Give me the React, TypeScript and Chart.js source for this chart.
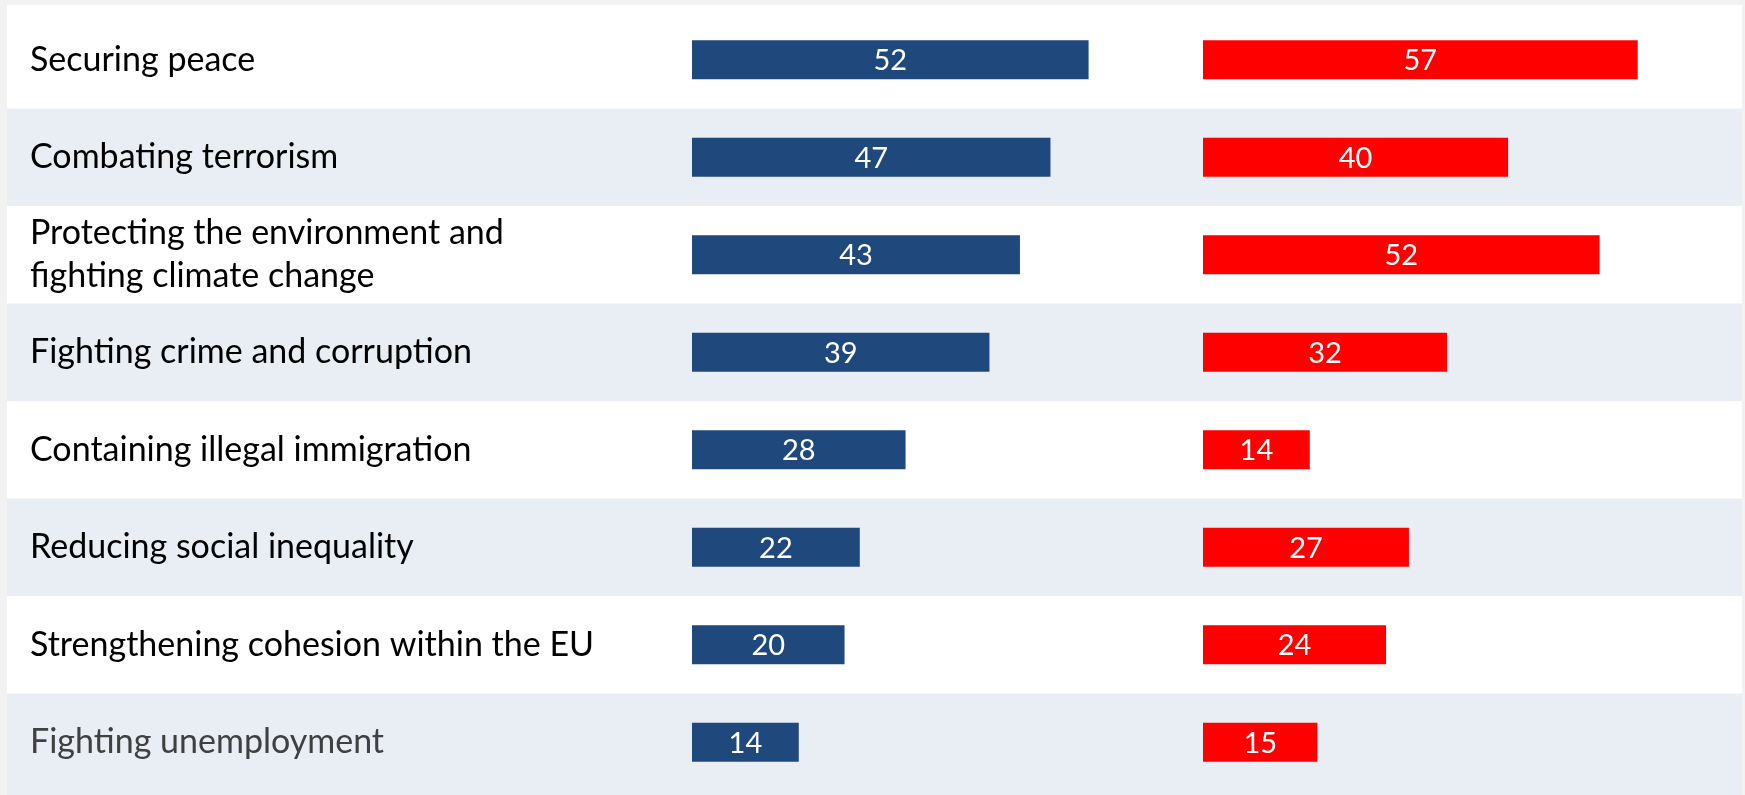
import React, { useEffect, useRef } from "react";
import { Chart, registerables } from "chart.js";

Chart.register(...registerables);

const categories: (string | string[])[] = [
  "Securing peace",
  "Combating terrorism",
  ["Protecting the environment and", "fighting climate change"],
  "Fighting crime and corruption",
  "Containing illegal immigration",
  "Reducing social inequality",
  "Strengthening cohesion within the EU",
  "Fighting unemployment",
];
const blueValues = [52, 47, 43, 39, 28, 22, 20, 14];
const redValues = [57, 40, 52, 32, 14, 27, 24, 15];
const axisMax = 67;

const W = 1745;
const H = 795;
const BLUE = "#1F497D";
const RED = "#FF0000";
const SHADE = "#E9EDF4";
const PAGE_BG = "#F2F2F2";
const PANEL = { left: 7, top: 5, right: 1742 };
const FONT = "Lato";

const backgroundPlugin = {
  id: "tableBackground",
  beforeDraw(chart: any) {
    const { ctx } = chart;
    const y = chart.scales.y;
    ctx.save();
    ctx.fillStyle = PAGE_BG;
    ctx.fillRect(0, 0, chart.width, chart.height);
    ctx.fillStyle = "#FFFFFF";
    ctx.fillRect(PANEL.left, PANEL.top, PANEL.right - PANEL.left, chart.height - PANEL.top);
    const n = categories.length;
    const band = (y.bottom - y.top) / n;
    ctx.fillStyle = SHADE;
    for (let i = 1; i < n; i += 2) {
      const c = y.getPixelForValue(i);
      const top = c - band / 2;
      const bottom = i === n - 1 ? chart.height : c + band / 2;
      ctx.fillRect(PANEL.left, top, PANEL.right - PANEL.left, bottom - top);
    }
    ctx.restore();
  },
};

const valueLabelPlugin = {
  id: "valueLabels",
  afterDatasetsDraw(chart: any) {
    const { ctx } = chart;
    ctx.save();
    ctx.font = `29px ${FONT}`;
    ctx.fillStyle = "#FFFFFF";
    ctx.textAlign = "center";
    ctx.textBaseline = "middle";
    chart.data.datasets.forEach((ds: any, di: number) => {
      const meta = chart.getDatasetMeta(di);
      meta.data.forEach((el: any, i: number) => {
        const { x, base, y } = el.getProps(["x", "base", "y"], true);
        ctx.fillText(String(ds.data[i]), (x + base) / 2, y + 1);
      });
    });
    ctx.restore();
  },
};

export default function App() {
  const ref = useRef<HTMLCanvasElement | null>(null);

  useEffect(() => {
    let chart: Chart | null = null;
    let cancelled = false;
    const make = () => {
      if (cancelled || !ref.current) return;
      const hiddenX = () => ({
        type: "linear" as const,
        position: "bottom" as const,
        stack: "cols",
        stackWeight: 1,
        min: 0,
        max: axisMax,
        display: true,
        ticks: { display: false },
        grid: { display: false, drawTicks: false },
        border: { display: false },
        title: { display: false },
      });
      chart = new Chart(ref.current, {
        type: "bar",
        data: {
          labels: categories as any,
          datasets: [
            {
              label: "Column 1",
              data: blueValues,
              backgroundColor: BLUE,
              xAxisID: "x1",
              grouped: false,
              barPercentage: 0.4,
              categoryPercentage: 1,
            },
            {
              label: "Column 2",
              data: redValues,
              backgroundColor: RED,
              xAxisID: "x2",
              grouped: false,
              barPercentage: 0.4,
              categoryPercentage: 1,
            },
          ],
        },
        options: {
          indexAxis: "y",
          animation: false,
          responsive: false,
          devicePixelRatio: 1,
          layout: { padding: { left: 30, top: 11, bottom: 4, right: 31 } },
          plugins: {
            legend: { display: false },
            tooltip: { enabled: false },
          },
          scales: {
            y: {
              type: "category",
              position: "left",
              grid: { display: false, drawTicks: false },
              border: { display: false },
              ticks: {
                crossAlign: "far",
                padding: 0,
                font: { family: FONT, size: 34, lineHeight: 1.27 },
                color: (c: any) => (c.index === categories.length - 1 ? "#404040" : "#000000"),
              },
              afterFit: (scale: any) => {
                scale.width = 662;
                scale.paddingTop = 0;
                scale.paddingBottom = 0;
              },
            },
            x1: hiddenX(),
            x2: hiddenX(),
          },
        } as any,
        plugins: [backgroundPlugin, valueLabelPlugin],
      });
    };
    if ((document as any).fonts && (document as any).fonts.load) {
      Promise.all([
        (document as any).fonts.load(`34px ${FONT}`),
        (document as any).fonts.load(`29px ${FONT}`),
      ])
        .catch(() => null)
        .then(make);
    } else {
      make();
    }
    return () => {
      cancelled = true;
      if (chart) chart.destroy();
    };
  }, []);

  return (
    <div style={{ position: "absolute", left: 0, top: 0, width: W, height: H, background: PAGE_BG }}>
      <canvas ref={ref} width={W} height={H} style={{ display: "block", width: W, height: H }} />
    </div>
  );
}
